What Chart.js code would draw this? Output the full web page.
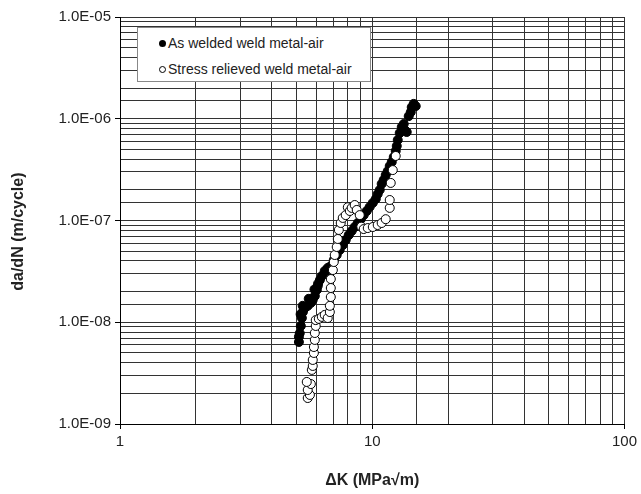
<!DOCTYPE html>
<html>
<head>
<meta charset="utf-8">
<script src="https://cdn.jsdelivr.net/npm/chart.js@4.4.0/dist/chart.umd.min.js"></script>
<style>
  body { margin: 0; background: #fff; }
  #quadro { position: relative; width: 641px; height: 494px; }
  #legenda {
    position: absolute; left: 137px; top: 27px; width: 232px; height: 53px;
    border: 1px solid #888; background: #fff;
    font: 14px "Liberation Sans", Arial, sans-serif; color: #222;
  }
  .item { position: absolute; left: 21px; height: 16px; line-height: 16px; white-space: nowrap; }
  .marca { display: inline-block; width: 7px; height: 7px; border-radius: 50%; margin-right: 2px; vertical-align: 1px; box-sizing: border-box; }
</style>
</head>
<body>
<div id="quadro">
  <canvas id="grafico-fadiga"></canvas>
  <div id="legenda">
    <div class="item" style="top:7px"><span class="marca" style="background:#000"></span>As welded weld metal-air</div>
    <div class="item" style="top:33px"><span class="marca" style="background:#fff;border:1px solid #000"></span>Stress relieved weld metal-air</div>
  </div>
</div>
<script>
// Dados: ΔK (MPa√m) e da/dN (m/ciclo)
const dkSoldado = [5.12, 5.12, 5.16, 5.21, 5.2, 5.26, 5.31, 5.3, 5.40, 5.55, 5.6, 5.71, 5.81, 5.92, 5.9, 6.03, 6.08, 6.1, 6.20, 6.31,
  6.48, 6.6, 6.66, 6.85, 7.04, 7.23, 7.43, 7.64, 7.85, 8.07, 8.29, 8.52, 8.76, 9.01, 9.25, 9.51, 9.77, 10.05, 10.33, 10.51,
  10.71, 10.90, 11.10, 11.31, 11.52, 11.73, 11.95, 12.17, 12.39, 12.51, 12.62, 12.85, 13.09, 13.45, 13.70, 13.33, 13.95, 14.21, 14.34, 14.60, 14.87];
const taxaSoldado = [6.4e-9, 7.2e-9, 7.8e-9, 9.2e-9, 1.2e-8, 1.10e-8, 1.26e-8, 1.45e-8, 1.38e-8, 1.45e-8, 1.7e-8, 1.55e-8, 1.66e-8, 1.81e-8, 2.1e-8, 2.08e-8, 2.27e-8, 2.4e-8, 2.60e-8, 2.85e-8,
  3.19e-8, 3.1e-8, 3.42e-8, 3.57e-8, 4.09e-8, 4.58e-8, 5.13e-8, 5.74e-8, 6.43e-8, 7.20e-8, 7.89e-8, 8.63e-8, 9.45e-8, 1.03e-7, 1.13e-7, 1.24e-7, 1.36e-7, 1.49e-7, 1.63e-7, 1.82e-7,
  2.00e-7, 2.29e-7, 2.50e-7, 2.80e-7, 3.06e-7, 3.43e-7, 3.76e-7, 4.21e-7, 4.82e-7, 5.40e-7, 6.18e-7, 7.24e-7, 8.30e-7, 7.75e-7, 7.41e-7, 8.88e-7, 1.06e-6, 1.16e-6, 1.30e-6, 1.40e-6, 1.33e-6];

const dkAlivio = [5.55, 5.66, 5.55, 5.71, 5.50, 5.76, 5.81, 5.81, 5.87, 5.87, 5.92, 5.92, 5.97, 5.97, 6.14, 6.31, 6.48, 6.66,
  6.79, 6.79, 6.85, 6.85, 6.85, 6.98, 7.04, 7.10, 7.23, 7.30, 7.37, 7.50, 7.64, 7.85, 8.0, 8.15, 8.29, 8.52, 8.68, 8.92,
  9.05, 9.25, 9.60, 10.05, 10.51, 10.90, 11.31, 11.73, 11.73, 11.84, 12.06, 12.39];
const taxaAlivio = [1.80e-9, 1.93e-9, 2.16e-9, 2.47e-9, 2.59e-9, 3.40e-9, 3.72e-9, 4.26e-9, 4.99e-9, 5.71e-9, 6.70e-9, 7.84e-9, 9.19e-9, 1.05e-8, 1.08e-8, 1.13e-8, 1.18e-8, 1.10e-8,
  1.26e-8, 1.45e-8, 1.77e-8, 2.17e-8, 2.66e-8, 3.26e-8, 3.91e-8, 4.58e-8, 5.49e-8, 6.58e-8, 8.07e-8, 9.45e-8, 1.06e-7, 1.13e-7, 1.35e-7, 1.24e-7, 1.33e-7, 1.42e-7, 1.27e-7, 1.13e-7,
  8.7e-8, 8.24e-8, 8.43e-8, 8.63e-8, 9.03e-8, 9.45e-8, 1.03e-7, 1.33e-7, 1.59e-7, 2.34e-7, 3.13e-7, 4.31e-7];

// Rótulos dos eixos (apenas nas décadas)
const rotulosX = ['1', '10', '100'];
const rotulosY = ['1.0E-09', '1.0E-08', '1.0E-07', '1.0E-06', '1.0E-05'];

const fonte = '"Liberation Sans", Arial, sans-serif';

// Verifica se o valor é uma potência de 10
const ehDecada = v => Math.abs(Math.log10(v) - Math.round(Math.log10(v))) < 1e-6;

const pontos = (xs, ys) => xs.map((x, i) => ({ x, y: ys[i] }));

const ctx = document.getElementById('grafico-fadiga').getContext('2d');

new Chart(ctx, {
  type: 'scatter',
  data: {
    datasets: [
      {
        label: 'Stress relieved weld metal-air',
        data: pontos(dkAlivio, taxaAlivio),
        pointRadius: 4.5,
        backgroundColor: '#fff',
        borderColor: '#000',
        borderWidth: 1,
        order: 1
      },
      {
        label: 'As welded weld metal-air',
        data: pontos(dkSoldado, taxaSoldado),
        pointRadius: 4.5,
        backgroundColor: '#000',
        borderColor: '#000',
        borderWidth: 1,
        order: 2
      }
    ]
  },
  options: {
    responsive: true,
    maintainAspectRatio: false,
    animation: false,
    layout: { padding: { top: 17, right: 16, left: 0, bottom: 0 } },
    plugins: {
      legend: { display: false },
      tooltip: { enabled: false }
    },
    scales: {
      x: {
        type: 'logarithmic',
        min: 1,
        max: 100,
        afterFit: escala => { escala.height = 70; },
        border: { color: '#000', width: 1 },
        grid: {
          color: '#333',
          tickLength: 5,
          tickColor: c => (c.tick && ehDecada(c.tick.value) ? '#000' : 'rgba(0,0,0,0)')
        },
        ticks: {
          autoSkip: false,
          maxRotation: 0,
          padding: 4,
          color: '#222',
          font: { family: fonte, size: 15 },
          callback: v => (ehDecada(v) ? rotulosX[Math.round(Math.log10(v))] : '')
        },
        title: {
          display: true,
          text: 'ΔK (MPa√m)',
          color: '#222',
          font: { family: fonte, size: 16, weight: 'bold' },
          padding: { top: 0, bottom: 4 }
        }
      },
      y: {
        type: 'logarithmic',
        min: 1e-9,
        max: 1e-5,
        afterFit: escala => { escala.width = 120; },
        border: { color: '#000', width: 1 },
        grid: {
          color: '#333',
          tickLength: 5,
          tickColor: c => (c.tick && ehDecada(c.tick.value) ? '#000' : 'rgba(0,0,0,0)')
        },
        ticks: {
          autoSkip: false,
          padding: 4,
          color: '#222',
          font: { family: fonte, size: 15 },
          callback: v => (ehDecada(v) ? rotulosY[Math.round(Math.log10(v)) + 9] : '')
        },
        title: {
          display: true,
          // espaços no fim baixam o título, como no original
          text: 'da/dN (m/cycle)     ',
          color: '#222',
          font: { family: fonte, size: 16, weight: 'bold' },
          padding: { top: 9, bottom: 0 }
        }
      }
    }
  }
});
</script>
</body>
</html>
